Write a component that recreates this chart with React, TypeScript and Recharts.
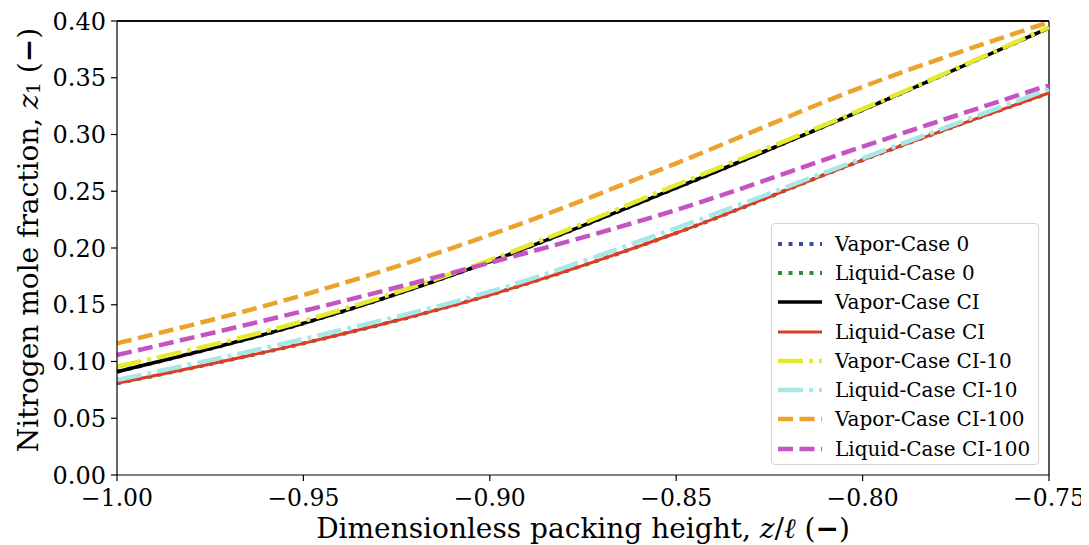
import React from 'react';
import { LineChart, Line, XAxis, YAxis, Legend, CartesianGrid, ReferenceLine } from 'recharts';

const xValues = [-1.0, -0.95, -0.9, -0.85, -0.8, -0.75];
const vaporCase0 = [0.091, 0.1336, 0.188, 0.2529, 0.3216, 0.394];
const liquidCase0 = [0.0808, 0.116, 0.1586, 0.2132, 0.2775, 0.3366];
const vaporCI = [0.091, 0.1336, 0.188, 0.2529, 0.3216, 0.394];
const liquidCI = [0.0808, 0.116, 0.1586, 0.2132, 0.2775, 0.3366];
const vaporCI10 = [0.0954, 0.1357, 0.1894, 0.2555, 0.3225, 0.3945];
const liquidCI10 = [0.0837, 0.1198, 0.1615, 0.2176, 0.279, 0.34];
const vaporCI100 = [0.116, 0.1586, 0.2115, 0.2746, 0.342, 0.399];
const liquidCI100 = [0.1057, 0.1445, 0.187, 0.2335, 0.2893, 0.3436];

const xTicks = [-1.0, -0.95, -0.9, -0.85, -0.8, -0.75];
const yTicks = [0, 0.05, 0.1, 0.15, 0.2, 0.25, 0.3, 0.35, 0.4];

const seriesDefs = [
  { key: 'v0', name: 'Vapor-Case 0', values: vaporCase0, color: '#3F48A8', width: 4, dash: '4 6.5' },
  { key: 'l0', name: 'Liquid-Case 0', values: liquidCase0, color: '#2E8B3A', width: 4, dash: '4 6.5' },
  { key: 'vci', name: 'Vapor-Case CI', values: vaporCI, color: '#000000', width: 3.5, dash: undefined },
  { key: 'lci', name: 'Liquid-Case CI', values: liquidCI, color: '#E23A26', width: 3, dash: undefined },
  { key: 'vci10', name: 'Vapor-Case CI-10', values: vaporCI10, color: '#E6EA2E', width: 4.5, dash: '25 6 4 6' },
  { key: 'lci10', name: 'Liquid-Case CI-10', values: liquidCI10, color: '#A6E8E8', width: 4.5, dash: '25 6 4 6' },
  { key: 'vci100', name: 'Vapor-Case CI-100', values: vaporCI100, color: '#EBA32C', width: 4.5, dash: '15 6.5' },
  { key: 'lci100', name: 'Liquid-Case CI-100', values: liquidCI100, color: '#C653C2', width: 4.5, dash: '15 6.5' },
];

const data = xValues.map((x, i) => {
  const row: Record<string, number> = { x };
  seriesDefs.forEach((s) => {
    row[s.key] = s.values[i];
  });
  return row;
});

const FONT = 'DejaVu Serif';

const fmtX = (v: number) => (v < 0 ? '\u2212' : '') + Math.abs(v).toFixed(2);
const fmtY = (v: number) => v.toFixed(2);

const XTick = (props: any) => {
  const { x, y, payload } = props;
  return (
    <text x={x} y={y + 23} textAnchor="middle" fontFamily={FONT} fontSize={23.5} fill="#000">
      {fmtX(payload.value)}
    </text>
  );
};

const YTick = (props: any) => {
  const { x, y, payload } = props;
  return (
    <text x={x - 3} y={y + 8.5} textAnchor="end" fontFamily={FONT} fontSize={24} fill="#000">
      {fmtY(payload.value)}
    </text>
  );
};

const LegendBox = () => (
  <div
    style={{
      width: 268,
      height: 242,
      boxSizing: 'border-box',
      border: '1px solid #d6d6d6',
      borderRadius: 4,
      background: 'rgba(255,255,255,0.85)',
      padding: '5px 0 0 5px',
      fontFamily: FONT,
      fontSize: 20,
      color: '#000',
    }}
  >
    {seriesDefs.map((s) => (
      <div key={s.key} style={{ display: 'flex', alignItems: 'center', height: 29.3, fontFamily: FONT }}>
        <svg width={46} height={12} style={{ marginRight: 12, flexShrink: 0 }}>
          <line
            x1={1}
            y1={6}
            x2={45}
            y2={6}
            stroke={s.color}
            strokeWidth={s.width}
            strokeDasharray={s.dash}
          />
        </svg>
        <span style={{ whiteSpace: 'nowrap', fontFamily: FONT }}>{s.name}</span>
      </div>
    ))}
  </div>
);

const XLabel = (props: any) => {
  const vb = props.viewBox || {};
  const cx = vb.x + vb.width / 2;
  const y = vb.y + 63;
  return (
    <text x={cx} y={y} textAnchor="middle" fontFamily={FONT} fontSize={28} fill="#000">
      <tspan>Dimensionless packing height, </tspan>
      <tspan fontStyle="italic">z</tspan>
      <tspan>/</tspan>
      <tspan fontStyle="italic">ℓ</tspan>
      <tspan> (</tspan>
      <tspan fontWeight="bold">{'\u2212'}</tspan>
      <tspan>)</tspan>
    </text>
  );
};

const YLabel = (props: any) => {
  const vb = props.viewBox || {};
  const cx = 20;
  const cy = vb.y + vb.height / 2 - 8;
  return (
    <text
      x={cx}
      y={cy}
      transform={`rotate(-90, ${cx}, ${cy})`}
      textAnchor="middle"
      dominantBaseline="central"
      fontFamily={FONT}
      fontSize={28}
      fill="#000"
    >
      <tspan>Nitrogen mole fraction, </tspan>
      <tspan fontStyle="italic">z</tspan>
      <tspan fontSize={19} dy={5}>1</tspan>
      <tspan dy={-5}> (</tspan>
      <tspan fontWeight="bold">{'\u2212'}</tspan>
      <tspan>)</tspan>
    </text>
  );
};

const topEdge = (p: any) => [p.offset.top];
const rightEdge = (p: any) => [p.offset.left + p.offset.width];

export default function App() {
  return (
    <div style={{ fontFamily: FONT }}>
      <style>{`.recharts-surface { overflow: visible; }`}</style>
      <LineChart
        width={1081}
        height={537}
        data={data}
        margin={{ top: 13, right: 40, left: 0, bottom: 0 }}
      >
        <CartesianGrid
          stroke="#000"
          strokeWidth={1.3}
          horizontalCoordinatesGenerator={topEdge}
          verticalCoordinatesGenerator={rightEdge}
          syncWithTicks={false}
        />
        <XAxis
          dataKey="x"
          type="number"
          domain={[-1, -0.75]}
          ticks={xTicks}
          height={70}
          stroke="#000"
          tickLine={{ stroke: '#000', strokeWidth: 1.2 }}
          axisLine={{ stroke: '#000', strokeWidth: 1.2 }}
          tickSize={6}
          tick={<XTick />}
          label={<XLabel />}
        />
        <YAxis
          type="number"
          domain={[0, 0.4]}
          ticks={yTicks}
          width={109}
          stroke="#000"
          tickLine={{ stroke: '#000', strokeWidth: 1.2 }}
          axisLine={{ stroke: '#000', strokeWidth: 1.2 }}
          tickSize={6}
          tick={<YTick />}
          label={<YLabel />}
        />
        {seriesDefs.map((s) => (
          <Line
            key={s.key}
            dataKey={s.key}
            name={s.name}
            type="monotone"
            stroke={s.color}
            strokeWidth={s.width}
            strokeDasharray={s.dash}
            dot={false}
            activeDot={false}
            isAnimationActive={false}
          />
        ))}
        <ReferenceLine y={0.4} stroke="#000" strokeWidth={1.3} ifOverflow="visible" />
        <Legend
          layout="vertical"
          align="center"
          verticalAlign="middle"
          wrapperStyle={{ position: 'absolute', left: 763, top: 215, width: 268, height: 242 }}
          content={() => <LegendBox />}
        />
      </LineChart>
    </div>
  );
}
